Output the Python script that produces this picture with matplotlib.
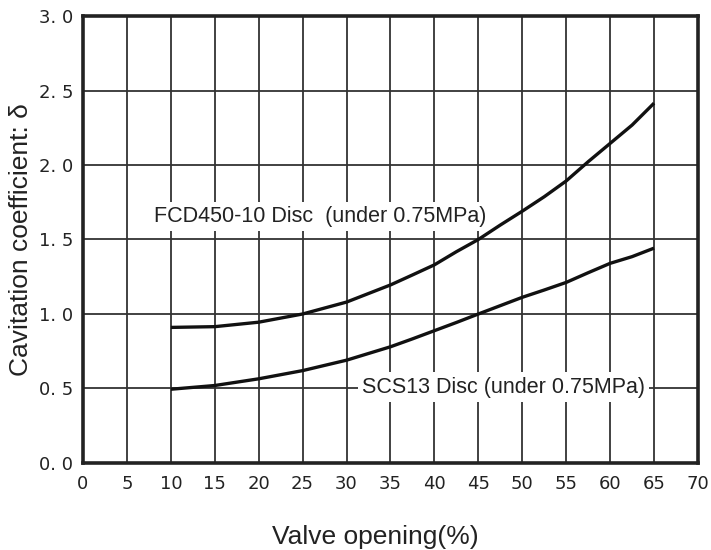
import numpy as np
import matplotlib.pyplot as plt

# Values
opening = [10, 15, 20, 25, 30, 35, 37.5, 40, 42.5, 45, 47.5, 50, 52.5, 55, 57.5, 60, 62.5, 65]
fcd450 = [0.91, 0.915, 0.945, 1.0, 1.08, 1.195, 1.262, 1.33, 1.418, 1.50, 1.597, 1.69,
          1.787, 1.893, 2.022, 2.145, 2.268, 2.415]
scs13 = [0.495, 0.52, 0.565, 0.62, 0.69, 0.78, 0.833, 0.888, 0.943, 1.0, 1.056, 1.112,
         1.161, 1.212, 1.277, 1.34, 1.385, 1.442]

xticks = np.arange(0, 71, 5)
yticks = [0.0, 0.5, 1.0, 1.5, 2.0, 2.5, 3.0]
ytick_labels = ['0. 0', '0. 5', '1. 0', '1. 5', '2. 0', '2. 5', '3. 0']

plt.rcParams['font.family'] = ['Liberation Sans', 'DejaVu Sans']

fig = plt.figure(figsize=(7.11, 5.5), dpi=100)
ax = fig.add_axes([0.1167, 0.1582, 0.865, 0.8127])

ax.set_xlim(0, 70)
ax.set_ylim(0, 3.0)
ax.set_xticks(xticks)
ax.set_yticks(yticks)
ax.set_xticklabels([str(v) for v in xticks], family='DejaVu Sans', fontsize=13, color='#222222')
ax.set_yticklabels(ytick_labels, family='DejaVu Sans', fontsize=13, color='#222222')
ax.tick_params(axis='x', length=0, pad=9)
ax.tick_params(axis='y', length=0, pad=7)

ax.grid(True, color='#333333', linewidth=1.3, zorder=0)
ax.set_axisbelow(True)
for s in ax.spines.values():
    s.set_linewidth(2.6)
    s.set_color('#222222')

ax.plot(opening, fcd450, color='#111111', linewidth=2.4, solid_capstyle='butt', zorder=3)
ax.plot(opening, scs13, color='#111111', linewidth=2.4, solid_capstyle='butt', zorder=3)

box = dict(facecolor='white', edgecolor='none', pad=3)
ax.text(8.1, 1.657, 'FCD450-10 Disc  (under 0.75MPa)', fontsize=15.5, color='#222222',
        ha='left', va='center', bbox=box, zorder=2)
ax.text(31.8, 0.51, 'SCS13 Disc (under 0.75MPa)', fontsize=15.5, color='#222222',
        ha='left', va='center', bbox=box, zorder=2)

ax.set_xlabel('Valve opening(%)', fontsize=19, color='#222222')
ax.set_ylabel('Cavitation coefficient: δ', fontsize=19, color='#222222')
ax.xaxis.set_label_coords(0.475, -0.138)
ax.yaxis.set_label_coords(-0.082, 0.5)

fig.savefig('out.png', dpi=100)
